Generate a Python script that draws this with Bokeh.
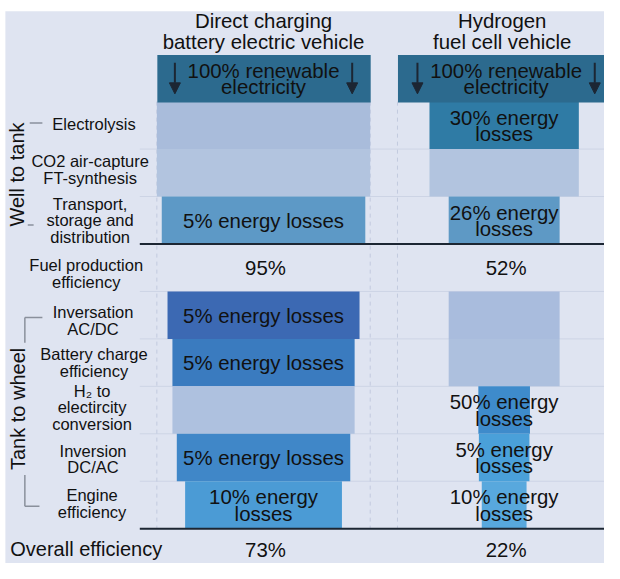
from math import pi
from bokeh.plotting import figure
from bokeh.models import Range1d, Arrow, NormalHead, ColumnDataSource, Label
from bokeh.core.properties import value
from bokeh.embed import file_html
from bokeh.resources import INLINE

# ---------------- data ----------------
vehicles = ["Direct charging\nbattery electric vehicle", "Hydrogen\nfuel cell vehicle"]
source_label = "100% renewable\nelectricity"
stages = ["Electrolysis", "CO2 air-capture\nFT-synthesis", "Transport,\nstorage and\ndistribution",
          "Fuel production\nefficiency", "Inversation\nAC/DC", "Battery charge\nefficiency",
          "H\u2082 to\nelectircity\nconversion", "Inversion\nDC/AC", "Engine\nefficiency"]
# share of the initial renewable energy still available after each stage
bev_remaining = [1.00, 1.00, 0.954, None, 0.90, 0.854, 0.854, 0.813, 0.735]
fcev_remaining = [0.70, 0.70, 0.52, None, 0.52, 0.52, 0.242, 0.237, 0.21]
bev_losses = ["", "", "5% energy losses", "", "5% energy losses", "5% energy losses", "",
              "5% energy losses", "10% energy\nlosses"]
fcev_losses = ["30% energy\nlosses", "", "26% energy\nlosses", "", "", "", "50% energy\nlosses",
               "5% energy\nlosses", "10% energy\nlosses"]
fuel_production = ["95%", "52%"]
overall = ["73%", "22%"]
groups = ["Well to tank", "Tank to wheel"]
overall_label = "Overall efficiency"

# ---------------- style / layout ----------------
BG = "#dfe4f1"
DARK = "#1c2633"
TXT = "#111111"
FONT = value("Liberation Sans")
ROW_TOP, ROW_H = 104.0, 48.8
BAR_FULL = 219.0
COL_CX = [270.0, 517.0]
TITLE_CX = [270.0, 515.0]
BOX_CX = [270.0, 519.0]
BOX_X = [(161.0, 380.0), (408.0, 640.0)]
BOX_Y = (56.0, 105.0)
LABEL_CX = [96, 92, 92, 88, 95, 96, 94, 95, 94]
LABEL_CY = [127, 173.5, 226, 281, 329, 372.5, 418.5, 471.5, 517.5]
bev_colors = ["#a9bcdb", "#b2c4df", "#5d99c6", None, "#3c69b3", "#3a7bbf", "#aec1df", "#4087c8", "#4b9bd5"]
fcev_colors = ["#2f7ba5", "#b2c4df", "#5e99c5", None, "#a9bcdd", "#adc0de", "#3e8bcb", "#4aa0d9", "#58a8dd"]

p = figure(width=604, height=563, output_backend="svg", toolbar_location=None,
           x_range=Range1d(0, 620), y_range=Range1d(579, 0), min_border=0)
p.axis.visible = False
p.grid.visible = False
p.outline_line_color = None
p.background_fill_color = "white"
p.border_fill_color = "white"

# panel background (reference has a thin white margin at the top and left)
p.quad(left=[5], right=[640], top=[11], bottom=[600], fill_color=BG, line_color=None)

def row_y(i):
    return ROW_TOP + i * ROW_H

# row separators
for i in range(1, 10):
    p.segment(x0=143, x1=640, y0=row_y(i), y1=row_y(i), line_color="#cdd4e5", line_width=1)

# dashed outlines of the full (100%) columns
for cx in COL_CX:
    for xx in (cx - BAR_FULL / 2, cx + BAR_FULL / 2):
        p.segment(x0=xx, x1=xx, y0=ROW_TOP, y1=row_y(9), line_color="#c3cadf",
                  line_width=1, line_dash="4 4")

# bars
for col, (rem, cols, losses) in enumerate([(bev_remaining, bev_colors, bev_losses),
                                           (fcev_remaining, fcev_colors, fcev_losses)]):
    idx = [i for i, r in enumerate(rem) if r is not None]
    src = ColumnDataSource(dict(
        left=[COL_CX[col] - rem[i] * BAR_FULL / 2 for i in idx],
        right=[COL_CX[col] + rem[i] * BAR_FULL / 2 for i in idx],
        top=[row_y(i) for i in idx],
        bottom=[row_y(i + 1) for i in idx],
        color=[cols[i] for i in idx],
    ))
    p.quad(left="left", right="right", top="top", bottom="bottom", fill_color="color",
           line_color=None, source=src)
    tsrc = ColumnDataSource(dict(
        x=[COL_CX[col]] * len(idx),
        y=[row_y(i) + ROW_H / 2 + 0.5 for i in idx],
        t=[losses[i] for i in idx],
    ))
    p.text(x="x", y="y", text="t", source=tsrc, text_align="center", text_baseline="middle",
           text_font=FONT, text_font_size="20.4px", text_line_height=0.74, text_color=TXT)

# fuel production and overall efficiency
for col in range(2):
    p.text(x=[COL_CX[col] + 2], y=[275], text=[fuel_production[col]],
           text_align="center", text_baseline="middle", text_font=FONT,
           text_font_size="20.4px", text_color=TXT)
    p.text(x=[COL_CX[col] + 2], y=[565], text=[overall[col]],
           text_align="center", text_baseline="middle", text_font=FONT,
           text_font_size="20.4px", text_color=TXT)

# heavy separator lines
for yy in (row_y(3), row_y(9)):
    p.segment(x0=143, x1=640, y0=yy, y1=yy, line_color=DARK, line_width=2)

# header boxes, titles and arrows
for col in range(2):
    p.quad(left=[BOX_X[col][0]], right=[BOX_X[col][1]], top=[BOX_Y[0]], bottom=[BOX_Y[1]],
           fill_color="#2c6a8e", line_color=None)
    p.text(x=[BOX_CX[col]], y=[80.5], text=[source_label], text_align="center",
           text_baseline="middle", text_font=FONT, text_font_size="20.4px",
           text_line_height=0.74, text_color=TXT)
    p.text(x=[TITLE_CX[col]], y=[31.5], text=[vehicles[col]], text_align="center",
           text_baseline="middle", text_font=FONT, text_font_size="20.4px",
           text_line_height=0.95, text_color=TXT)
    for ax in (BOX_CX[col] - 91, BOX_CX[col] + 91):
        p.add_layout(Arrow(end=NormalHead(size=11, fill_color=DARK, line_color=DARK),
                           x_start=ax, y_start=64, x_end=ax, y_end=96,
                           line_color=DARK, line_width=2))

# stage labels
p.text(x=LABEL_CX, y=LABEL_CY, text=stages,
       text_align="center", text_baseline="middle", text_font=FONT,
       text_font_size="16.5px", text_line_height=0.93, text_color=TXT)
p.text(x=[10], y=[564], text=[overall_label], text_align="left", text_baseline="middle",
       text_font=FONT, text_font_size="20px", text_color=TXT)

# group brackets and labels
GRAY = "#8a909c"
p.segment(x0=[30, 28], x1=[43, 34], y0=[126, 231], y1=[126, 231], line_color=GRAY, line_width=1.5)
p.segment(x0=[25, 25, 25, 25], x1=[43, 25, 25, 40], y0=[326, 326, 488, 520],
          y1=[326, 352, 520, 520], line_color=GRAY, line_width=1.5)
p.add_layout(Label(x=17, y=179, text=groups[0], angle=pi / 2, text_align="center",
                   text_baseline="middle", text_font="Liberation Sans", text_font_size="20px",
                   text_color=TXT))
p.add_layout(Label(x=17.5, y=420, text=groups[1], angle=pi / 2, text_align="center",
                   text_baseline="middle", text_font="Liberation Sans", text_font_size="20px",
                   text_color=TXT))

open("out.html", "w").write(file_html(p, INLINE))
